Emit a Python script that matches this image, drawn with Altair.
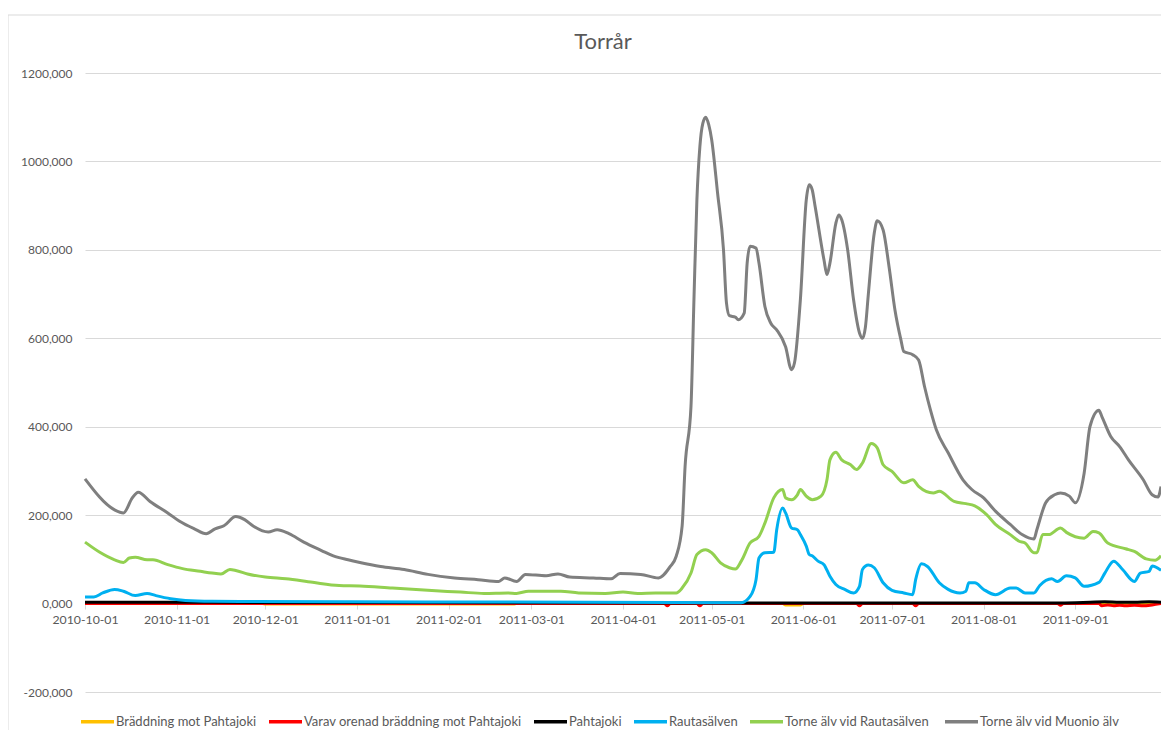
import altair as alt
import pandas as pd

START = pd.Timestamp("2010-10-01")

title_text = "Torrår"
series_names = [
    "Bräddning mot Pahtajoki",
    "Varav orenad bräddning mot Pahtajoki",
    "Pahtajoki",
    "Rautasälven",
    "Torne älv  vid Rautasälven",
    "Torne älv vid Muonio älv",
]
series_colors = ["#FFC000", "#FF0000", "#000000", "#00B0F0", "#92D050", "#7F7F7F"]

# day offsets from 2010-10-01 and values
braddning_days = [0, 60, 61, 145, 146, 236, 237, 242, 243, 364]
braddning_vals = [0, 0, -1, -1, 0, 0, -3, -3, 0, 0]

orenad_days = [0, 196, 197, 198, 207, 208, 209, 261, 262, 263, 280, 281, 282, 329, 330, 331,
               343, 344, 346, 348, 350, 352, 355, 358, 361, 364]
orenad_vals = [0, 0, -5, 0, 0, -5, 0, 0, -5, 0, 0, -5, 0, 0, -4, 0,
               0, -5, -3, -5, -4, -5, -4, -5, -3, 0]

pahtajoki_days = [0, 30, 60, 100, 145, 200, 330, 340, 345, 350, 355, 360, 364]
pahtajoki_vals = [3, 3, 2.5, 2.2, 1.8, 1.5, 1.5, 3, 4, 3, 3, 4, 3]

rautas_days = [0, 3, 6, 10, 13, 17, 21, 24, 29, 34, 43, 55, 90, 145, 200, 222, 225, 227, 228,
               230, 233, 234, 236, 237, 239, 241, 242, 244, 245, 246, 248, 250, 252, 254, 257,
               260, 262, 263, 265, 267, 270, 273, 277, 280, 281, 283, 285, 289, 292, 296, 298,
               299, 301, 304, 308, 313, 315, 318, 321, 323, 327, 329, 332, 335, 338, 343, 345,
               348, 351, 355, 357, 360, 361, 364]
rautas_vals = [15, 15, 24, 32, 28, 18, 23, 18, 11, 7, 5, 4.5, 4, 3.5, 2.5, 2, 16, 54, 103,
               115, 116, 167, 216, 205, 171, 167, 156, 130, 111, 108, 96, 88, 62, 43, 32,
               24, 39, 77, 87, 81, 47, 30, 24, 20, 54, 90, 84, 47, 32, 24, 28,
               47, 47, 32, 20, 35, 35, 24, 24, 41, 56, 50, 63, 58, 39, 48, 69,
               96, 77, 50, 69, 73, 85, 75]

torne_rautas_days = [0, 5, 10, 13, 15, 17, 21, 23, 28, 33, 39, 43, 46, 49, 51, 55, 61, 68, 77,
                     86, 93, 104, 116, 127, 135, 143, 146, 150, 161, 167, 176, 182, 187, 193,
                     200, 202, 205, 207, 210, 212, 215, 218, 220, 222, 225, 228, 230, 233, 236,
                     237, 239, 241, 242, 244, 246, 249, 251, 252, 254, 256, 259, 261, 263, 266,
                     268, 270, 273, 277, 280, 282, 287, 289, 294, 298, 301, 305, 308, 313, 316,
                     318, 321, 322, 324, 326, 330, 332, 338, 341, 343, 346, 352, 355, 359, 362,
                     364]
torne_rautas_vals = [139, 116, 99, 93, 103, 105, 99, 99, 88, 79, 73, 69, 67, 77, 75, 67, 60, 56,
                     48, 41, 40, 35, 30, 26, 23, 24, 23, 28, 28, 24, 23, 26, 23, 24,
                     24, 35, 69, 111, 122, 115, 92, 81, 78, 96, 137, 152, 182, 239, 258,
                     239, 235, 246, 258, 243, 235, 243, 280, 325, 342, 325, 314, 303, 318, 362,
                     352, 314, 299, 273, 280, 265, 250, 254, 231, 226, 221, 201, 179, 156, 141,
                     137, 115, 115, 156, 156, 171, 161, 148, 163, 160, 137, 124, 118, 101, 98,
                     108]

muonio_days = [0, 10, 13, 16, 18, 22, 28, 32, 37, 41, 44, 47, 51, 54, 57, 62, 65, 69, 74, 80,
               84, 89, 93, 100, 108, 116, 125, 133, 140, 142, 146, 149, 156, 160, 164, 172,
               178, 181, 188, 194, 198, 200, 202, 203, 205, 206, 207, 208, 209, 210, 211, 212,
               214, 216, 217, 218, 220, 221, 223, 224, 225, 227, 228, 230, 232, 234, 237, 239,
               240, 242, 244, 245, 246, 247, 250, 251, 252, 254, 255, 256, 258, 260, 262, 263,
               264, 265, 267, 268, 270, 272, 274, 276, 277, 280, 282, 284, 286, 288, 292, 297,
               300, 304, 308, 313, 317, 321, 322, 325, 328, 330, 333, 335, 338, 340, 343, 344,
               347, 350, 353, 358, 361, 363, 364]
muonio_vals = [282, 212, 205, 239, 252, 231, 205, 186, 169, 158, 169, 176, 197, 190, 175, 162,
               167, 158, 139, 120, 108, 99, 93, 84, 77, 66, 58, 54, 50, 58, 50, 66, 63, 67, 60,
               58, 56, 68, 66, 58, 84, 107, 175, 310, 446, 687, 913, 1033, 1086, 1100, 1083,
               1049, 928, 800, 680, 651, 648, 642, 657, 770, 808, 804, 770, 672, 634, 619, 581,
               529, 544, 687, 913, 947, 936, 898, 777, 744, 770, 860, 879, 868, 800, 687, 612,
               600, 625, 700, 838, 866, 845, 762, 664, 597, 570, 563, 551, 491, 438, 393, 341,
               280, 258, 239, 209, 179, 156, 146, 167, 228, 246, 250, 243, 228, 295, 401, 437,
               423, 378, 355, 325, 280, 246, 241, 265]

y_ticks = [-200, 0, 200, 400, 600, 800, 1000, 1200]
x_tick_months = [(2010, 10), (2010, 11), (2010, 12), (2011, 1), (2011, 2), (2011, 3),
                 (2011, 4), (2011, 5), (2011, 6), (2011, 7), (2011, 8), (2011, 9)]

all_series = [
    (braddning_days, braddning_vals),
    (orenad_days, orenad_vals),
    (pahtajoki_days, pahtajoki_vals),
    (rautas_days, rautas_vals),
    (torne_rautas_days, torne_rautas_vals),
    (muonio_days, muonio_vals),
]

FONT = "Lato"
TXT = "#595959"
GRID = "#D9D9D9"

color_enc = alt.Color(
    "series:N",
    scale=alt.Scale(domain=series_names, range=series_colors),
    legend=alt.Legend(
        orient="none",
        legendX=-6,
        legendY=630,
        direction="horizontal",
        title=None,
        symbolType="stroke",
        symbolStrokeWidth=3.5,
        symbolSize=1089,
        labelFont=FONT,
        labelFontSize=13,
        labelColor=TXT,
        labelOffset=0,
        columnPadding=5,
        labelLimit=400,
    ),
)

x_enc = alt.X(
    "date:T",
    title=None,
    scale=alt.Scale(
        type="utc",
        domain=[alt.DateTime(year=2010, month=10, date=1, utc=True),
                alt.DateTime(year=2011, month=9, date=30, utc=True)],
    ),
    axis=alt.Axis(
        values=[alt.DateTime(year=y, month=m, date=1, utc=True) for y, m in x_tick_months],
        labelExpr="utcFormat(datum.value, '%Y-%m-%d')",
        labelOverlap=False,
        labelFlush=False,
        offset=-88,
        grid=False,
        domainColor=GRID,
        domainWidth=1,
        tickColor=GRID,
        tickSize=5,
        labelPadding=4,
        labelFont=FONT,
        labelFontSize=12.3,
        labelColor=TXT,
        labelAngle=0,
    ),
)

y_enc = alt.Y(
    "value:Q",
    title=None,
    scale=alt.Scale(domain=[-200, 1200], nice=False, zero=False),
    axis=alt.Axis(
        values=y_ticks,
        labelExpr="replace(replace(format(datum.value, '.3f'), '.', ','), '\u2212', '-')",
        domain=False,
        ticks=False,
        grid=True,
        gridColor=GRID,
        gridWidth=1,
        labelPadding=13,
        labelFont=FONT,
        labelFontSize=12,
        labelColor=TXT,
    ),
)

layers = []
border = alt.Chart(pd.DataFrame({"k": [0]})).mark_rect(
    filled=False, stroke=GRID, strokeWidth=1
).encode(x=alt.value(-77), x2=alt.value(1115), y=alt.value(-58), y2=alt.value(720))
layers.append(border)

for name, (days, vals) in zip(series_names, all_series):
    dates = [(START + pd.Timedelta(days=int(d))).strftime("%Y-%m-%d") for d in days]
    df = pd.DataFrame({"date": dates, "value": vals, "series": name})
    layers.append(
        alt.Chart(df).mark_line(strokeWidth=3, interpolate="monotone", strokeJoin="round")
        .encode(x=x_enc, y=y_enc, color=color_enc)
    )

chart = (
    alt.layer(*layers)
    .properties(
        width=1076,
        height=619,
        padding={"left": 77, "top": 65, "right": 0, "bottom": 38},
        autosize=alt.AutoSizeParams(type="none"),
        title=alt.TitleParams(
            title_text, font=FONT, fontSize=22, fontWeight="normal", color=TXT,
            anchor="middle", offset=-39, dx=-20,
        ),
        background="white",
    )
    .configure_view(stroke=None)
)

chart.save("out.html", embed_options={"renderer": "svg", "actions": False})
